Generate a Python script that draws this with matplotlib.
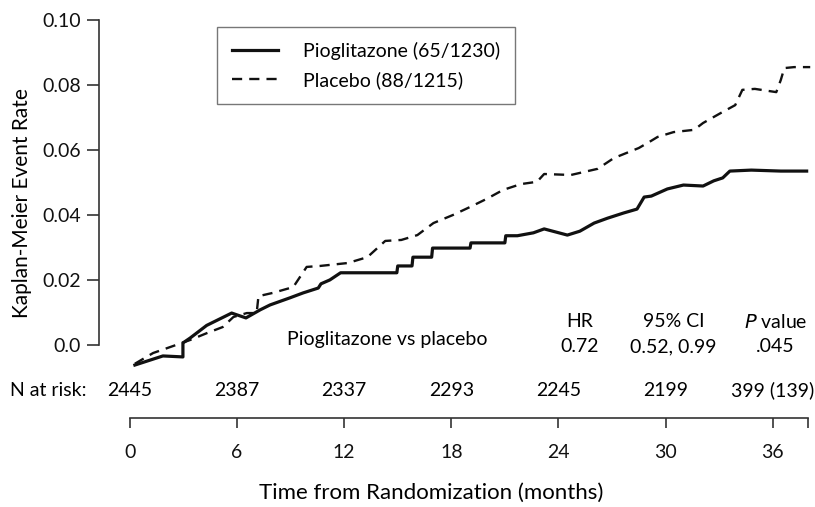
import numpy as np
import matplotlib
matplotlib.use("Agg")
import matplotlib.pyplot as plt

plt.rcParams['font.family'] = ['Lato', 'DejaVu Sans']

# Kaplan-Meier curves (months, event rate)
pio_t = [0.28, 1.85, 2.97, 2.97, 3.37, 4.3, 5.7, 6.5, 7.3, 7.85, 8.97, 9.7, 10.55, 10.7,
         11.2, 11.8, 14.95, 15.0, 15.8, 15.85, 16.9, 16.95, 19.05, 19.1, 21.0, 21.05, 21.7,
         22.6, 23.2, 24.5, 25.2, 26.0, 26.75, 27.65, 28.4, 28.8, 29.2, 30.1, 31.0, 32.1,
         32.7, 33.2, 33.6, 34.8, 36.45, 37.9]
pio_y = [-0.0062, -0.0034, -0.0037, 0.0006, 0.0021, 0.006, 0.0098, 0.0083, 0.0108, 0.0123,
         0.0145, 0.016, 0.0175, 0.0188, 0.020, 0.0222, 0.0222, 0.0243, 0.0243, 0.027, 0.027,
         0.0298, 0.0298, 0.0314, 0.0314, 0.0336, 0.0336, 0.0345, 0.0357, 0.0338, 0.035,
         0.0375, 0.039, 0.0406, 0.0418, 0.0455, 0.0458, 0.048, 0.0492, 0.0489, 0.0505,
         0.0514, 0.0535, 0.0538, 0.0535, 0.0535]

plac_t = [0.28, 1.3, 2.6, 3.37, 4.3, 5.2, 5.8, 6.55, 7.1, 7.2, 8.0, 9.15, 9.9, 10.65, 12.2,
          13.3, 14.3, 15.2, 16.1, 17.0, 18.1, 19.07, 20.0, 20.9, 21.9, 22.8, 23.2, 24.7,
          26.2, 27.1, 28.5, 29.1, 29.55, 30.45, 31.6, 32.1, 33.1, 33.9, 34.3, 35.0, 36.2,
          36.45, 36.65, 37.2, 38.1]
plac_y = [-0.0058, -0.0025, 0.0, 0.0015, 0.0036, 0.0055, 0.0086, 0.0098, 0.0098, 0.015,
          0.016, 0.0178, 0.024, 0.0243, 0.0252, 0.027, 0.032, 0.0323, 0.0338, 0.0375, 0.040,
          0.0425, 0.045, 0.0477, 0.0495, 0.0502, 0.0526, 0.0523, 0.0542, 0.0575, 0.0606,
          0.0625, 0.064, 0.0655, 0.0662, 0.0683, 0.0714, 0.0738, 0.0785, 0.0788, 0.0778,
          0.0815, 0.0852, 0.0855, 0.0855]

x_ticks = [0, 6, 12, 18, 24, 30, 36]
y_ticks = [0.0, 0.02, 0.04, 0.06, 0.08, 0.10]
y_labels = ['0.0', '0.02', '0.04', '0.06', '0.08', '0.10']
n_at_risk = ['2445', '2387', '2337', '2293', '2245', '2199', '399 (139)']

stat_heads = ['HR', '95% CI', '$\\it{P}$ value']
stat_vals = ['0.72', '0.52, 0.99', '.045']
stat_x = [25.2, 30.45, 36.15]

fs = 14
axcol = '#333333'

fig = plt.figure(figsize=(8.15, 5.07), dpi=100)
ax = fig.add_axes([99/815, 1 - 418/507, 713/815, (418 - 20)/507])

ax.plot(pio_t, pio_y, color='#111111', lw=2.3, label='Pioglitazone (65/1230)')
ax.plot(plac_t, plac_y, color='#111111', lw=1.7, dashes=(4.3, 3.0), label='Placebo (88/1215)')

ax.set_xlim(-1.73, 38.2)
ax.set_ylim(-0.0225, 0.10)

for s in ['top', 'right']:
    ax.spines[s].set_visible(False)
ax.spines['left'].set_bounds(0, 0.10)
ax.spines['bottom'].set_bounds(0, 38)
for s in ['left', 'bottom']:
    ax.spines[s].set_color(axcol)
    ax.spines[s].set_linewidth(1.2)

ax.set_xticks(x_ticks + [38])
ax.set_xticklabels([str(t) for t in x_ticks] + [''])
ax.set_yticks(y_ticks)
ax.set_yticklabels(y_labels)
ax.tick_params(axis='x', length=7, width=1.2, color=axcol, labelsize=fs, pad=12, labelcolor='#111111')
ax.tick_params(axis='y', length=9, width=1.2, color=axcol, labelsize=fs, pad=4, labelcolor='#111111')

# number at risk row
ax.text(-1.73 - 89/17.87, -0.0139, 'N at risk:', ha='left', va='center', fontsize=fs, clip_on=False)
for x, n in zip(x_ticks, n_at_risk):
    ax.text(x, -0.0139, n, ha='center', va='center', fontsize=fs, clip_on=False)

# statistics block
ax.text(8.79, 0.0016, 'Pioglitazone vs placebo', ha='left', va='center', fontsize=fs)
for x, h, v in zip(stat_x, stat_heads, stat_vals):
    ax.text(x, 0.0071, h, ha='center', va='center', fontsize=fs)
    ax.text(x, -0.0006, v, ha='center', va='center', fontsize=fs)

leg = ax.legend(loc='upper left', bbox_to_anchor=(217/815, 1 - 27/507), bbox_transform=fig.transFigure,
                fontsize=fs, frameon=True, fancybox=False, borderaxespad=0, handlelength=2.37,
                handletextpad=1.3, labelspacing=0.6, borderpad=0.75)
leg.get_frame().set_edgecolor('#555555')
leg.get_frame().set_linewidth(1.0)

fig.text(22/815, 1 - 203/507, 'Kaplan-Meier Event Rate', rotation=90, ha='center', va='center', fontsize=15)
fig.text(431/815, 1 - 493/507, 'Time from Randomization (months)', ha='center', va='center', fontsize=16)

fig.savefig('out.png', dpi=100)
